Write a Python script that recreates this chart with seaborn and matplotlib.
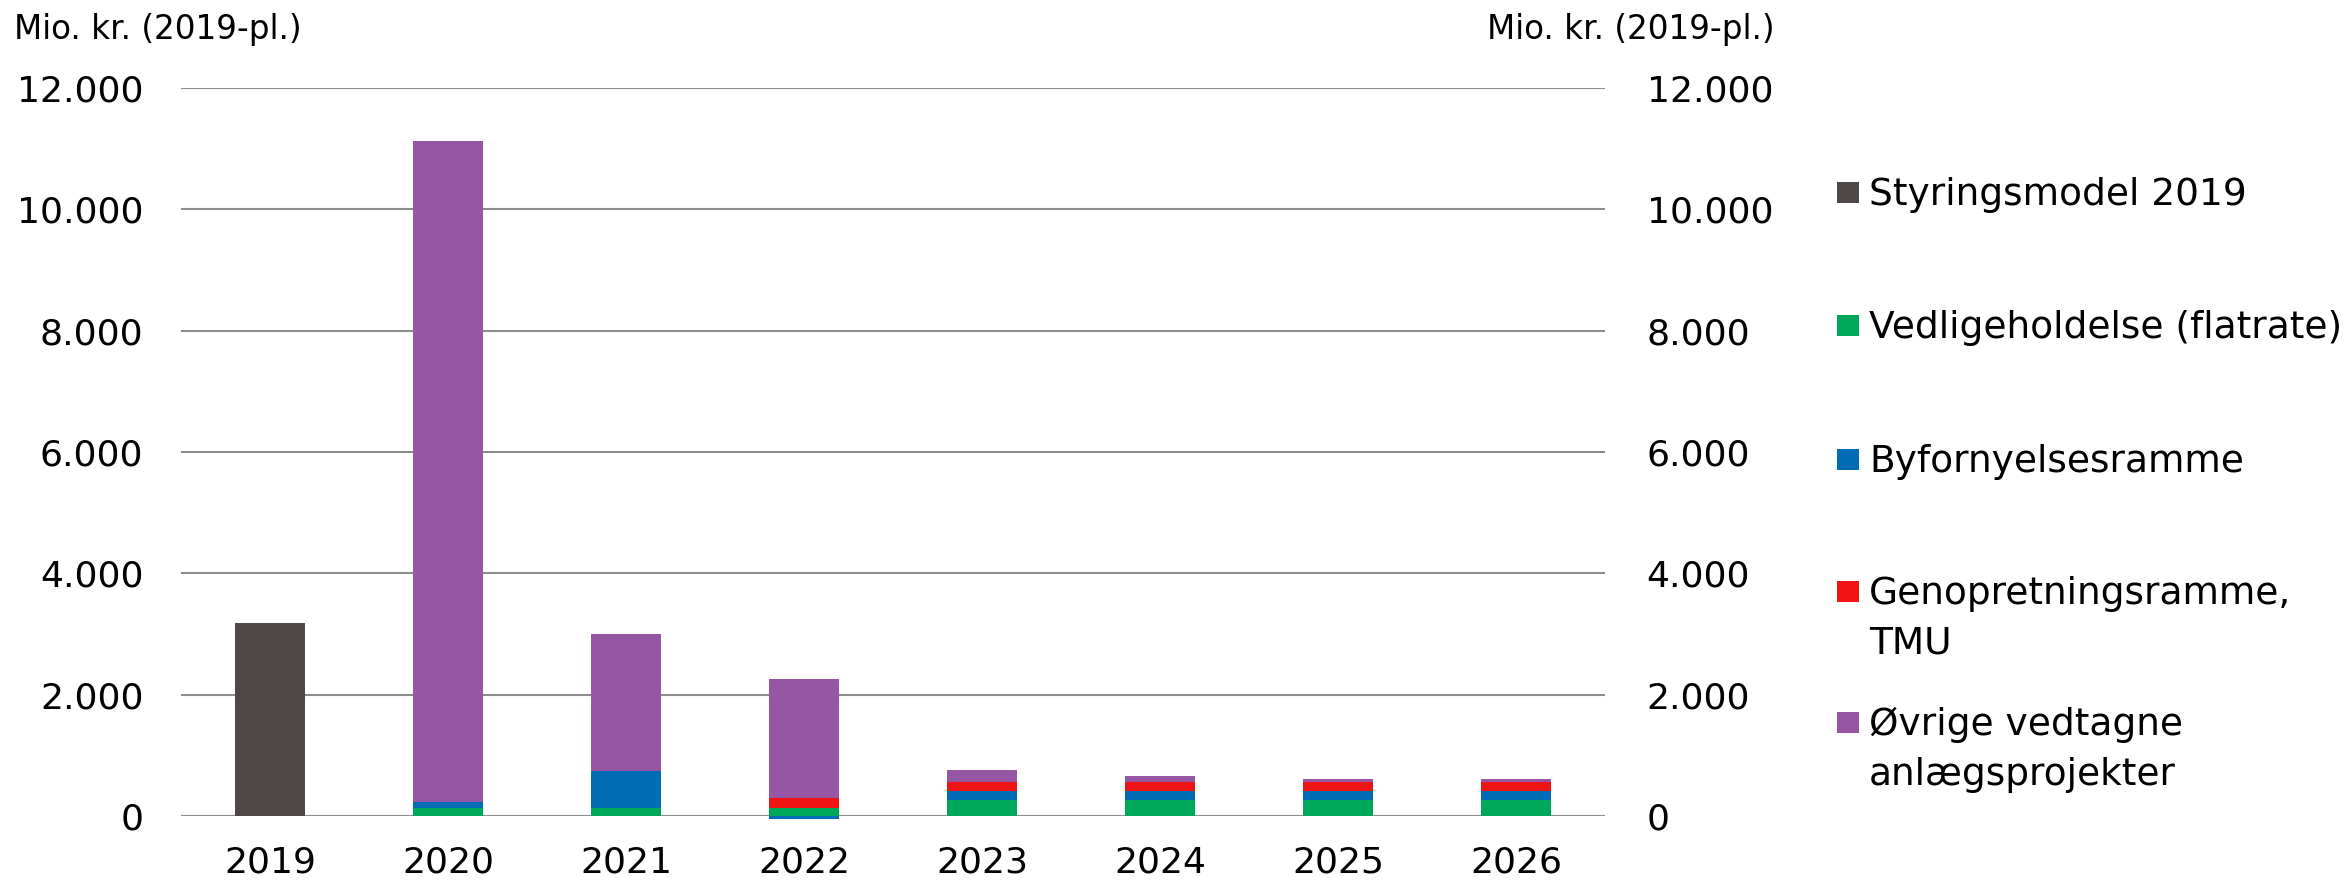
import numpy as np
import pandas as pd
import matplotlib
matplotlib.use("Agg")
import matplotlib.pyplot as plt
import seaborn as sns

# ---- data ----
years = ["2019", "2020", "2021", "2022", "2023", "2024", "2025", "2026"]
series_names = [
    "Styringsmodel 2019",
    "Vedligeholdelse (flatrate)",
    "Byfornyelsesramme",
    "Genopretningsramme,\nTMU",
    "Øvrige vedtagne\nanlægsprojekter",
]
styring = [3180, 0, 0, 0, 0, 0, 0, 0]
vedlige = [0, 130, 130, 130, 265, 260, 260, 260]
byforny = [0, 100, 620, -45, 155, 155, 155, 155]
genopret = [0, 0, 0, 160, 140, 140, 140, 140]
ovrige = [0, 10900, 2250, 1970, 205, 110, 55, 55]
colors = ["#4d4845", "#00a85a", "#006cb5", "#f01414", "#9656a3"]
yticks = [0, 2000, 4000, 6000, 8000, 10000, 12000]
axis_title = "Mio. kr. (2019-pl.)"

sns.set_theme(style="white")
plt.rcParams["font.family"] = ["DejaVu Sans"]
plt.rcParams["text.color"] = "black"

W, H = 2344, 883
fig = plt.figure(figsize=(W / 100, H / 100), dpi=100)
ax_l, ax_r, ax_t, ax_b = 181, 1605, 88, 816
ax = fig.add_axes([ax_l / W, 1 - ax_b / H, (ax_r - ax_l) / W, (ax_b - ax_t) / H])

all_series = [styring, vedlige, byforny, genopret, ovrige]
pos_cum = np.zeros(len(years))
neg_cum = np.zeros(len(years))
for name, vals, col in zip(series_names, all_series, colors):
    v = np.array(vals, dtype=float)
    bottom = np.where(v >= 0, pos_cum, neg_cum)
    df = pd.DataFrame({"year": years, "value": v})
    sns.barplot(data=df, x="year", y="value", color=col, saturation=1,
                width=0.39, bottom=bottom, linewidth=0, errorbar=None,
                clip_on=False, ax=ax, zorder=3)
    pos_cum = pos_cum + np.where(v > 0, v, 0)
    neg_cum = neg_cum + np.where(v < 0, v, 0)

ax.set_xlim(-0.5, len(years) - 0.5)
ax.set_ylim(0, 12000)
ax.set_yticks(yticks)
fmt = [f"{t:,}".replace(",", ".") for t in yticks]
ax.set_yticklabels(fmt)
ax.set_xlabel("")
ax.set_ylabel("")
ax.yaxis.grid(True, color="#8c8c8c", linewidth=1.5, zorder=0)
ax.xaxis.grid(False)
ax.set_axisbelow(True)
for s in ax.spines.values():
    s.set_visible(False)
ax.tick_params(axis="y", length=0, pad=27, labelsize=26, labelcolor="black")
ax.tick_params(axis="x", length=0, pad=21, labelsize=26, labelcolor="black")

ax2 = ax.twinx()
ax2.set_ylim(0, 12000)
ax2.set_yticks(yticks)
ax2.set_yticklabels(fmt)
for s in ax2.spines.values():
    s.set_visible(False)
ax2.tick_params(axis="y", length=0, pad=30, labelsize=26, labelcolor="black")
ax2.grid(False)

fig.text(158 / W, 1 - 30 / H, axis_title, ha="center", va="center", fontsize=23.5,
         color="black")
fig.text(1631 / W, 1 - 30 / H, axis_title, ha="center", va="center", fontsize=23.5,
         color="black")

# legend
baselines = [205, 338, 472, 604, 735]
line_step = 50
for b, name, col in zip(baselines, series_names, colors):
    fig.add_artist(plt.Rectangle((1837 / W, 1 - (b - 2.5) / H), 22 / W, 21 / H,
                                 transform=fig.transFigure, facecolor=col,
                                 edgecolor="none"))
    for j, line in enumerate(name.split("\n")):
        fig.text(1869 / W, 1 - (b + j * line_step) / H, line, ha="left",
                 va="baseline", fontsize=27, color="black")

fig.savefig("out.png", dpi=100)
